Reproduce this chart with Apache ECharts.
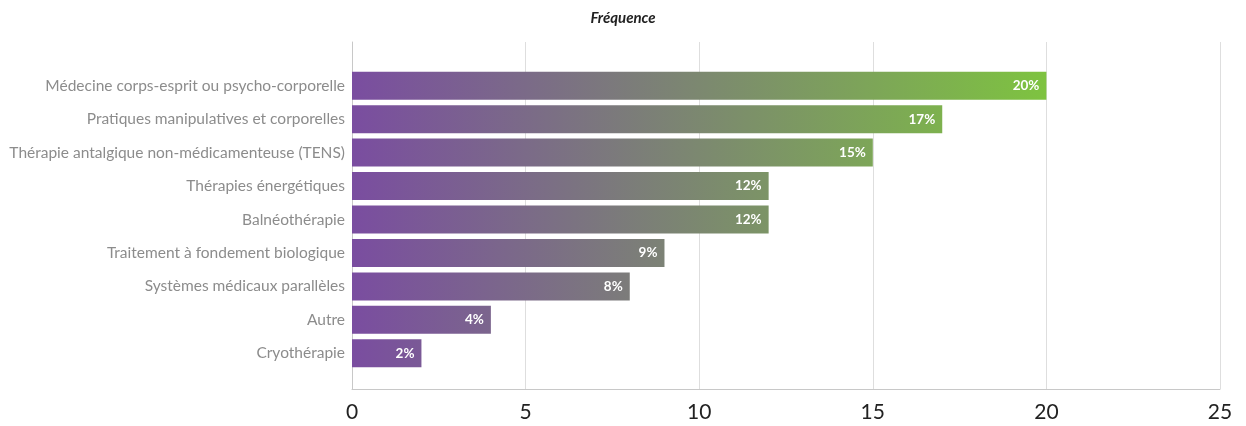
<!DOCTYPE html>
<html>
<head>
<meta charset="utf-8">
<script src="https://cdn.jsdelivr.net/npm/echarts@6/dist/echarts.min.js"></script>
<style>
  html, body { margin: 0; padding: 0; background: #fff; }
  #chart { width: 1246px; height: 426px; }
</style>
</head>
<body>
<div id="chart"></div>
<script>
// Categories, top to bottom
const categories = [
  'Médecine corps-esprit ou psycho-corporelle',
  'Pratiques manipulatives et corporelles',
  'Thérapie antalgique non-médicamenteuse (TENS)',
  'Thérapies énergétiques',
  'Balnéothérapie',
  'Traitement à fondement biologique',
  'Systèmes médicaux parallèles',
  'Autre',
  'Cryothérapie'
];
const values = [20, 17, 15, 12, 12, 9, 8, 4, 2];
const xTicks = [0, 5, 10, 15, 20, 25];

const startColor = [122, 77, 160];
const endColor = [126, 195, 64];
const vmax = Math.max.apply(null, values);

function mix(t) {
  const c = startColor.map((s, i) => Math.round(s + (endColor[i] - s) * t));
  return 'rgb(' + c.join(',') + ')';
}

// Each bar fades from purple toward green in proportion to its length
const barData = values.map(v => ({
  value: v,
  itemStyle: {
    color: new echarts.graphic.LinearGradient(0, 0, 1, 0, [
      { offset: 0, color: mix(0) },
      { offset: 1, color: mix(v / vmax) }
    ])
  }
}));

const chart = echarts.init(document.getElementById('chart'));
chart.setOption({
  animation: false,
  title: {
    text: 'Fréquence',
    left: 'center',
    top: 6,
    textStyle: { fontFamily: 'Lato', fontStyle: 'italic', fontWeight: 'bold', fontSize: 15, color: '#222' }
  },
  grid: [
    { left: 352, right: 26, top: 69, bottom: 56 },
    { left: 352, right: 26, top: 42, bottom: 37 }
  ],
  xAxis: [
    { gridIndex: 0, type: 'value', min: xTicks[0], max: xTicks[xTicks.length - 1], interval: 5, show: false },
    {
      gridIndex: 1, type: 'value', min: xTicks[0], max: xTicks[xTicks.length - 1], interval: 5,
      axisLine: { show: true, lineStyle: { color: '#c8c8c8' } },
      axisTick: { show: false },
      splitLine: { lineStyle: { color: '#dedede' } },
      axisLabel: { fontFamily: 'Lato', fontSize: 21, color: '#222', margin: 13 }
    }
  ],
  yAxis: [
    {
      gridIndex: 0, type: 'category', data: categories, inverse: true,
      axisLine: { show: false }, axisTick: { show: false },
      axisLabel: { fontFamily: 'Lato', fontSize: 15.5, color: '#8c8c8c', margin: 7 }
    },
    {
      gridIndex: 1, type: 'value', min: 0, max: 1,
      axisLine: { show: true, lineStyle: { color: '#c8c8c8' } },
      axisTick: { show: false }, axisLabel: { show: false }, splitLine: { show: false }
    }
  ],
  series: [{
    type: 'bar',
    xAxisIndex: 0,
    yAxisIndex: 0,
    data: barData,
    barWidth: 28,
    label: {
      show: true,
      position: 'insideRight',
      distance: 7,
      formatter: p => p.value + '%',
      fontFamily: 'Lato',
      fontWeight: 'bold',
      fontSize: 13.5,
      color: '#fff'
    }
  }]
});
</script>
</body>
</html>
